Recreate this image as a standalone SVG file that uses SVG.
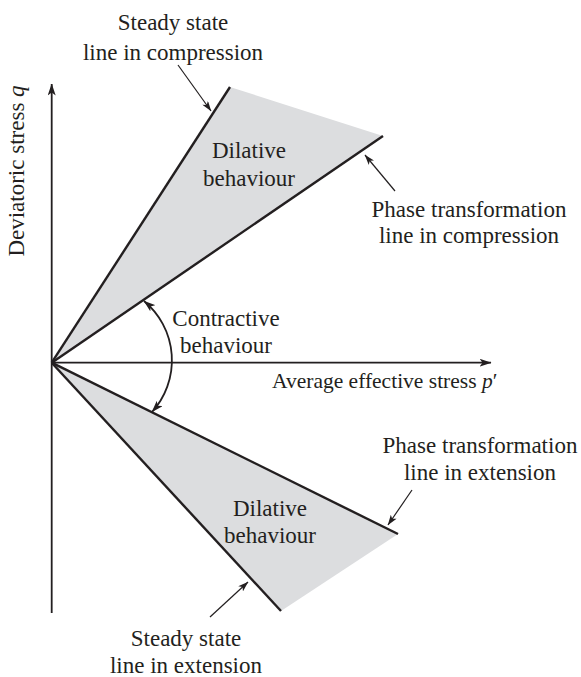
<svg xmlns="http://www.w3.org/2000/svg" width="581" height="677" viewBox="0 0 581 677">
<style>
text{font-family:"Liberation Serif","Times New Roman",serif;font-size:23px;fill:#231f20}
.c{text-anchor:middle}
.ax{stroke:#231f20;stroke-width:1.8;fill:none}
.bd{stroke:#231f20;stroke-width:2.4;fill:none;stroke-linecap:butt}
.pt{stroke:#231f20;stroke-width:1.2;fill:none}
.zone{fill:#dcdddf;stroke:none}
</style>
<defs>
<marker id="ah" viewBox="0 0 12 8" refX="11.5" refY="4" markerWidth="12" markerHeight="8" markerUnits="userSpaceOnUse" orient="auto-start-reverse">
<path d="M0,0 L12,4 L0,8 L3,4 Z" fill="#231f20"/>
</marker>
<marker id="ahs" viewBox="0 0 12 8" refX="11.5" refY="4" markerWidth="11" markerHeight="7" markerUnits="userSpaceOnUse" orient="auto-start-reverse">
<path d="M0,0 L12,4 L0,8 L3,4 Z" fill="#231f20"/>
</marker>
</defs>
<g id="zone-compression">
<polygon class="zone" points="51.7,362.7 230,87 383,136"/>
<line class="bd" x1="51.7" y1="362.7" x2="230" y2="87"/>
<line class="bd" x1="51.7" y1="362.7" x2="383" y2="136"/>
<text class="c" x="249" y="158">Dilative</text>
<text class="c" x="249" y="186">behaviour</text>
</g>
<g id="zone-extension">
<polygon class="zone" points="51.7,362.7 398,534 281,611"/>
<line class="bd" x1="51.7" y1="362.7" x2="398" y2="534"/>
<line class="bd" x1="51.7" y1="362.7" x2="281" y2="611"/>
<text class="c" x="270" y="516">Dilative</text>
<text class="c" x="270" y="543">behaviour</text>
</g>
<g id="axes">
<line class="ax" x1="51.7" y1="613" x2="51.7" y2="84" marker-end="url(#ah)"/>
<line class="ax" x1="51.7" y1="362.7" x2="491" y2="362.7" marker-end="url(#ah)"/>
<text class="c" transform="translate(24,171) rotate(-90)">Deviatoric stress <tspan font-style="italic">q</tspan></text>
<text x="272" y="387.5" style="font-size:21.5px">Average effective stress <tspan font-style="italic">p</tspan>′</text>
</g>
<g id="contractive">
<path class="ax" d="M144,301 A77,77 0 0 1 152,412" marker-start="url(#ah)" marker-end="url(#ah)"/>
<text class="c" x="226" y="325.5">Contractive</text>
<text class="c" x="226" y="353">behaviour</text>
</g>
<g id="label-ss-compression">
<text class="c" x="173" y="30">Steady state</text>
<text class="c" x="173" y="60">line in compression</text>
</g>
<g id="label-pt-compression">
<text class="c" x="469" y="217">Phase transformation</text>
<text class="c" x="469" y="243">line in compression</text>
</g>
<g id="label-pt-extension">
<text class="c" x="480" y="453">Phase transformation</text>
<text class="c" x="480" y="480">line in extension</text>
</g>
<g id="label-ss-extension">
<text class="c" x="186" y="646">Steady state</text>
<text class="c" x="186" y="673">line in extension</text>
</g>
<g id="connectors">
<line class="pt" x1="178" y1="65" x2="211" y2="111" marker-end="url(#ahs)"/>
<line class="pt" x1="395" y1="191" x2="365" y2="155" marker-end="url(#ahs)"/>
<line class="pt" x1="412" y1="490" x2="388" y2="525" marker-end="url(#ahs)"/>
<line class="pt" x1="210" y1="617" x2="248" y2="582" marker-end="url(#ahs)"/>
</g>
</svg>
